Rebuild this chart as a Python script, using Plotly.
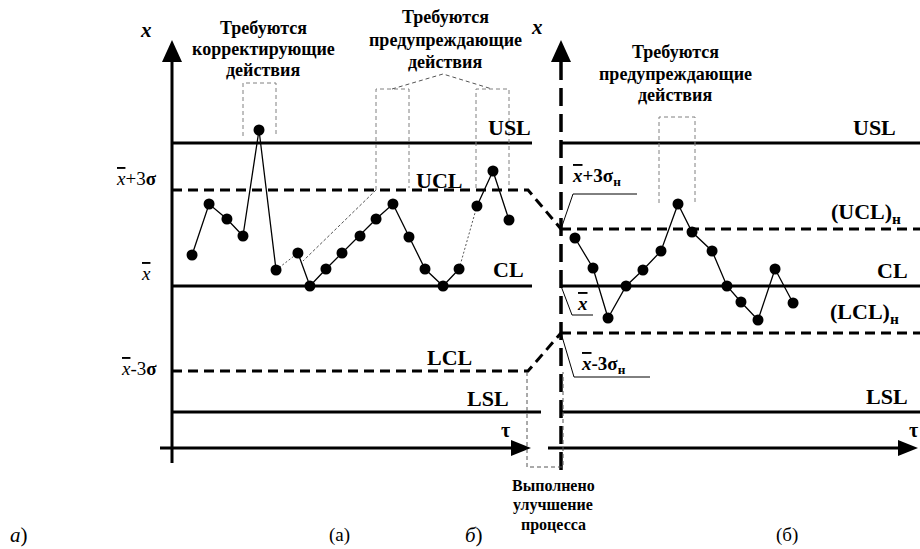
import plotly.graph_objects as go

# ---------------- data ----------------
# (а) process before improvement: time index and measured value
t_before = [1.20, 2.22, 3.29, 4.25, 5.21, 6.23, 7.54, 8.26, 9.22, 10.18,
            11.26, 12.22, 13.23, 14.19, 15.15, 16.23, 17.19, 18.26, 19.22, 20.18]
x_before = [19.3, 24.4, 22.9, 21.2, 31.8, 17.8, 19.5, 16.2, 17.9, 19.5,
            21.2, 22.9, 24.4, 21.1, 17.9, 16.2, 17.9, 24.2, 27.7, 22.8]
# (б) process after improvement
t_after = [24.13, 25.21, 26.11, 27.19, 28.20, 29.28, 30.30, 31.14, 32.34,
           33.23, 34.07, 35.09, 36.11, 37.19]
x_after = [21.0, 18.0, 13.0, 16.2, 17.8, 19.7, 24.4, 21.6, 19.7, 16.2,
           14.6, 12.8, 17.9, 14.5]

# limits
usl = 30.5
lsl = 3.6
cl = 16.2
ucl_before = 25.8
lcl_before = 7.7
ucl_after = 21.9
lcl_after = 11.5

# ---------------- geometry helpers ----------------
W, H = 920, 549
X0PX, Y0PX = 172, 448      # pixel position of the origin of the (а) axes
PXT, PXV = 16.7, 10.0      # pixels per time unit / per value unit


def tx(px):
    return (px - X0PX) / PXT


def vy(py):
    return (Y0PX - py) / PXV


FONT = "Liberation Serif, Times New Roman, serif"
shapes = []


def seg(x0, y0, x1, y1, w=3, color="black", dash="solid", layer="below"):
    shapes.append(dict(type="line", xref="x", yref="y", x0=x0, y0=y0, x1=x1, y1=y1,
                       line=dict(color=color, width=w, dash=dash), layer=layer))


def poly(pts, w=1, color="black", dash="solid", fill=None, close=False, layer="below"):
    d = "M " + " L ".join(f"{x:.4f},{y:.4f}" for x, y in pts)
    if close:
        d += " Z"
    sh = dict(type="path", xref="x", yref="y", path=d,
              line=dict(color=color, width=w, dash=dash), layer=layer)
    if fill:
        sh["fillcolor"] = fill
    shapes.append(sh)


def pp(px, py):
    return (tx(px), vy(py))


DASH = "10px,6px"
t_split = tx(561)
t_end = tx(W)

# ---- panel (а) limit lines ----
seg(0, usl, tx(532), usl)
seg(0, cl, tx(532), cl)
seg(0, lsl, tx(541), lsl)
poly([(0, ucl_before), (tx(528), ucl_before), (t_split, ucl_after)], w=3, dash=DASH)
poly([(0, lcl_before), (tx(528), lcl_before), (t_split, lcl_after)], w=3, dash=DASH)

# ---- panel (б) limit lines ----
seg(t_split, usl, t_end, usl)
seg(t_split, cl, t_end, cl)
seg(t_split, lsl, t_end, lsl)
seg(t_split, ucl_after, t_end, ucl_after, dash=DASH)
seg(t_split, lcl_after, t_end, lcl_after, dash=DASH)

# ---- axes ----
seg(0, vy(463), 0, vy(60))
poly([pp(172, 40), pp(162, 62), pp(182, 62)], w=0, fill="black", close=True)
seg(tx(160), 0, tx(513), 0)
poly([pp(531, 448), pp(511, 440), pp(511, 456)], w=0, fill="black", close=True)

seg(t_split, vy(470), t_split, vy(60), w=3.5, dash="18px,8px")
poly([pp(561, 40), pp(551, 62), pp(571, 62)], w=0, fill="black", close=True)
seg(tx(548), 0, tx(899), 0)
poly([pp(918, 448), pp(898, 440), pp(898, 456)], w=0, fill="black", close=True)

# ---- grey dashed callout boxes ----
GREY = "#808080"
BD = "4px,3px"
poly([pp(243, 136), pp(243, 83), pp(276, 83), pp(276, 136)], color=GREY, dash=BD)
poly([pp(376, 190), pp(376, 89), pp(409, 89), pp(409, 188)], color=GREY, dash=BD)
poly([pp(476, 188), pp(476, 89), pp(509, 89), pp(509, 188)], color=GREY, dash=BD)
poly([pp(392, 89), pp(443, 74), pp(492, 89)], color="#555555", dash=BD)
poly([pp(376, 190), pp(303, 261)], color="#555555", dash="3px,2px")
poly([pp(659, 203), pp(659, 117), pp(695, 117), pp(695, 203)], color=GREY, dash=BD)
poly([pp(527, 372), pp(527, 467), pp(563, 467), pp(563, 372)], color="#555555", dash=BD)

# ---- leader lines of panel (б) labels ----
poly([(t_split, ucl_after), pp(573, 194), pp(637, 194)], w=1)
poly([(t_split, cl), pp(572, 315), pp(593, 315)], w=1)
poly([(t_split, lcl_after), pp(574, 377), pp(650, 377)], w=1)

# ---------------- traces ----------------
solid_groups = [(0, 5), (6, 16), (17, 19)]
dotted_links = [(5, 6), (16, 17)]

sx, sy = [], []
for a, b in solid_groups:
    sx += t_before[a:b + 1] + [None]
    sy += x_before[a:b + 1] + [None]
dx, dy = [], []
for a, b in dotted_links:
    dx += [t_before[a], t_before[b], None]
    dy += [x_before[a], x_before[b], None]

fig = go.Figure()
fig.add_trace(go.Scatter(x=sx, y=sy, mode="lines", line=dict(color="black", width=1.3),
                         hoverinfo="skip"))
fig.add_trace(go.Scatter(x=dx, y=dy, mode="lines",
                         line=dict(color="#555555", width=1, dash="2px,2px"), hoverinfo="skip"))
fig.add_trace(go.Scatter(x=t_after, y=x_after, mode="lines",
                         line=dict(color="black", width=1.3), hoverinfo="skip"))
fig.add_trace(go.Scatter(x=t_before + t_after, y=x_before + x_after, mode="markers",
                         marker=dict(color="black", size=11), hoverinfo="skip"))

# ---------------- text ----------------
ann = []


def label(px, py, text, size, xanchor="center"):
    ann.append(dict(x=tx(px), y=vy(py), xref="x", yref="y", text=text, showarrow=False,
                    xanchor=xanchor, yanchor="middle",
                    font=dict(family=FONT, size=size, color="black")))


def ol(s):
    return f'<span style="text-decoration:overline">{s}</span>'


# axis names
label(146, 30, "<b><i>x</i></b>", 21)
label(537, 27, "<b><i>x</i></b>", 21)
label(505, 430, "<b>τ</b>", 20)
label(913, 430, "<b>τ</b>", 20)

# callout captions
CAP = 18
for py, s in zip([28, 49, 70], ["Требуются", "корректирующие", "действия"]):
    label(263, py, f"<b>{s}</b>", CAP)
for py, s in zip([17, 40, 62], ["Требуются", "предупреждающие", "действия"]):
    label(445, py, f"<b>{s}</b>", CAP)
for py, s in zip([52, 74, 95], ["Требуются", "предупреждающие", "действия"]):
    label(675, py, f"<b>{s}</b>", CAP)
for py, s in zip([485, 505, 525], ["Выполнено", "улучшение", "процесса"]):
    label(553, py, f"<b>{s}</b>", 16)

# limit names
LS = 22
label(533, 127, "<b>USL</b>", LS, "right")
label(439, 180, "<b>UCL</b>", LS)
label(508, 269, "<b>CL</b>", LS)
label(449, 357, "<b>LCL</b>", LS)
label(488, 398, "<b>LSL</b>", LS)
label(898, 127, "<b>USL</b>", LS, "right")
label(866, 213, "<b>(UCL)<sub>н</sub></b>", LS)
label(910, 270, "<b>CL</b>", LS, "right")
label(864, 313, "<b>(LCL)<sub>н</sub></b>", LS)
label(910, 396, "<b>LSL</b>", LS, "right")

# y-level names of panel (а)
label(159, 178, f"<i>{ol('x')}</i>+3<b>σ</b>", 19, "right")
label(146, 273, f"<i>{ol('x')}</i>", 19)
label(159, 368, f"<i>{ol('x')}</i>-3<b>σ</b>", 19, "right")

# y-level names of panel (б)
label(570, 177, f"<b><i>{ol('x')}</i>+3σ<sub>н</sub></b>", 19, "left")
label(575, 303, f"<b><i>{ol('x')}</i></b>", 19, "left")
label(579, 365, f"<b><i>{ol('x')}</i>-3σ<sub>н</sub></b>", 19, "left")

# panel captions
label(19, 535, "<i>а</i>)", 21)
label(339, 535, "(а)", 19)
label(474, 535, "<i>б</i>)", 21)
label(787, 535, "(б)", 19)

fig.update_layout(
    width=W, height=H, margin=dict(l=0, r=0, t=0, b=0),
    paper_bgcolor="white", plot_bgcolor="white", showlegend=False,
    xaxis=dict(range=[tx(0), tx(W)], visible=False, fixedrange=True),
    yaxis=dict(range=[vy(H), vy(0)], visible=False, fixedrange=True),
    shapes=shapes, annotations=ann,
)

fig.write_html("out.html", config={"displayModeBar": False},
               post_script="document.body.style.margin='0';document.body.style.overflow='hidden';")
